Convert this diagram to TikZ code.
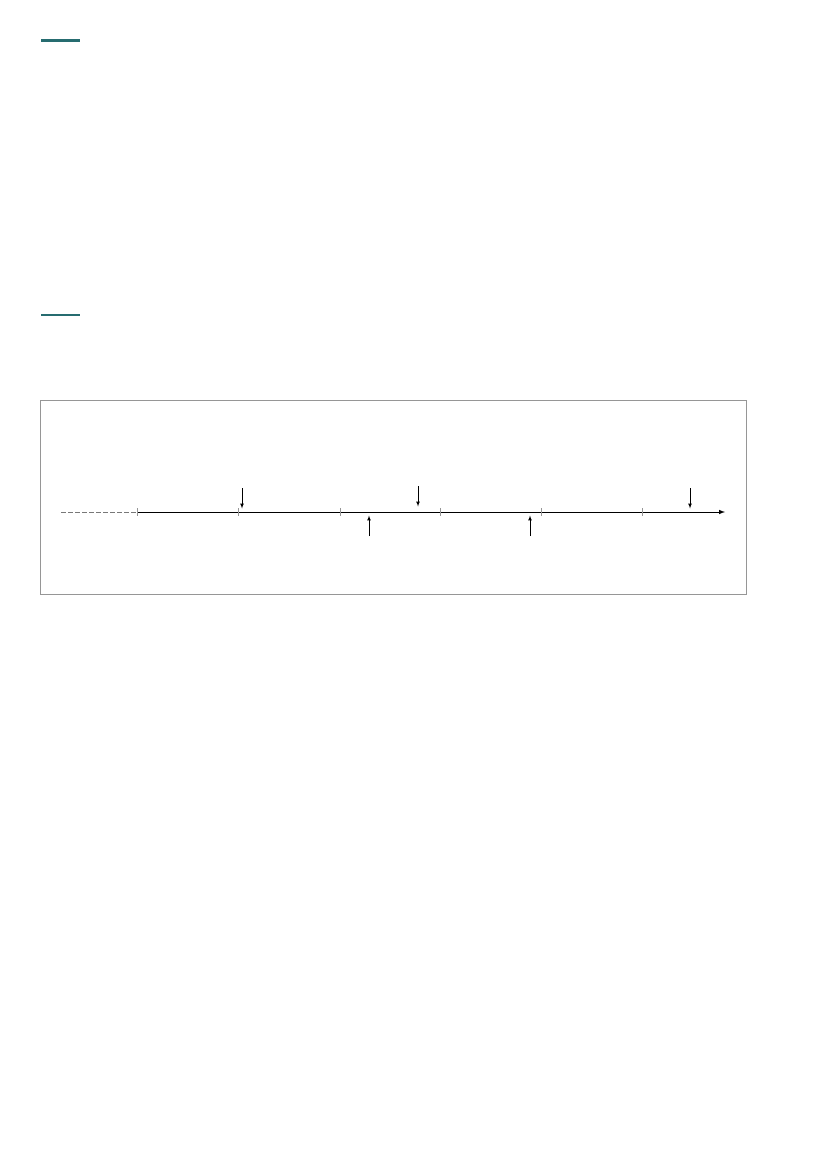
\documentclass[tikz,border=0pt]{standalone}
\usetikzlibrary{arrows,positioning}

\definecolor{headteal}{RGB}{38,108,112}
\definecolor{framegray}{RGB}{150,150,150}

\begin{document}
\begin{tikzpicture}[x=1pt,y=-1pt,>=latex,line width=0.8pt]
  \tikzstyle{tick}=[draw=framegray,line width=0.6pt]
  \tikzstyle{event}=[->,shorten >=0.5pt,line width=0.7pt]

  \useasboundingbox (0,0) rectangle (827,1169);

  % heading rules
  \fill[headteal] (41,39) rectangle (80,42);
  \fill[headteal] (41,314) rectangle (80,316);

  % frame
  \draw[framegray,line width=0.9pt] (40,400) rectangle (746,594);

  % time axis
  \coordinate (start) at (61,512);
  \coordinate (t1) at (137,512);
  \coordinate (t2) at (238,512);
  \coordinate (t3) at (340,512);
  \coordinate (t4) at (440,512);
  \coordinate (t5) at (541,512);
  \coordinate (t6) at (642,512);
  \coordinate (end) at (725,512);

  \draw[dash pattern=on 4.5pt off 2.5pt,framegray!80!black,line width=0.7pt] (start) -- (t1);
  \draw[->,line width=1pt] (t1) -- (end);
  \foreach \i in {1,...,6}
    \draw[tick] (t\i) ++(0,-4) -- ++(0,8);

  % events above the axis
  \coordinate (d1) at (242,488);  \coordinate (d1e) at (242,509);
  \coordinate (d2) at (418,486);  \coordinate (d2e) at (418,507);
  \coordinate (d3) at (690,488);  \coordinate (d3e) at (690,509);
  % events below the axis
  \coordinate (u1) at (369,536);  \coordinate (u1e) at (369,515);
  \coordinate (u2) at (530,536);  \coordinate (u2e) at (530,515);

  \draw[event] (d1) -- (d1e);
  \draw[event] (d2) -- (d2e);
  \draw[event] (d3) -- (d3e);
  \draw[event] (u1) -- (u1e);
  \draw[event] (u2) -- (u2e);
\end{tikzpicture}
\end{document}
